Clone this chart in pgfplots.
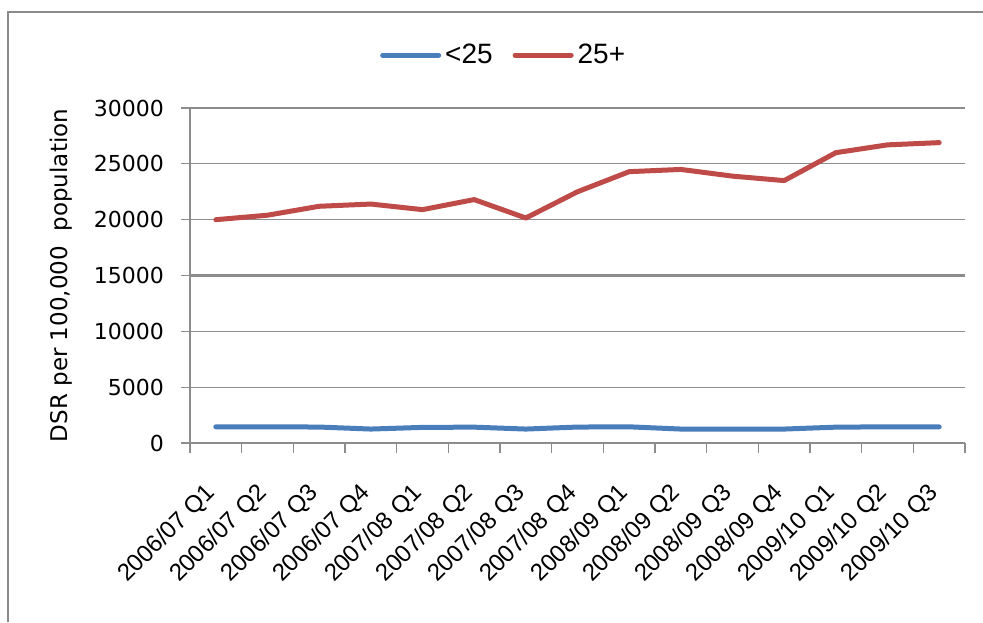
\documentclass[border=0pt]{standalone}
\usepackage{pgfplots}
\pgfplotsset{compat=1.18}
\usepackage{fontspec}
\setmainfont{Liberation Sans}
\newfontfamily\dejavu{DejaVu Sans}

\definecolor{serblue}{HTML}{4A7EBB}
\definecolor{serred}{HTML}{BE4B48}
\definecolor{gridgray}{HTML}{8C8C8C}
\definecolor{framegray}{HTML}{8A8A8A}

\begin{document}
\begin{tikzpicture}
\useasboundingbox (0,0) rectangle (491.5pt,-311pt);
% chart frame
\draw[framegray, line width=1pt] (4pt,-311pt) -- (4pt,-6pt) -- (491.5pt,-6pt);

\begin{axis}[
  at={(95pt,-221.5pt)}, anchor=south west,
  scale only axis, width=387.5pt, height=167.5pt,
  xmin=0, xmax=15, ymin=0, ymax=30000,
  axis x line*=bottom, axis y line*=left,
  axis line style={gridgray, line width=0.6pt},
  xtick={0.5,1.5,...,14.5},
  xticklabels={2006/07 Q1,2006/07 Q2,2006/07 Q3,2006/07 Q4,2007/08 Q1,2007/08 Q2,2007/08 Q3,2007/08 Q4,2008/09 Q1,2008/09 Q2,2008/09 Q3,2008/09 Q4,2009/10 Q1,2009/10 Q2,2009/10 Q3},
  major x tick style={draw=none},
  minor xtick={0,1,...,15},
  minor x tick style={gridgray, line width=0.6pt},
  x tick style={/pgfplots/tick align=outside},
  minor tick length=5pt,
  ytick={0,5000,...,30000},
  y tick style={gridgray, line width=0.6pt},
  major tick length=9pt,
  ytick align=center,
  ymajorgrids,
  grid style={gridgray, line width=0.6pt},
  scaled y ticks=false,
  yticklabel style={font=\dejavu\fontsize{11}{13}\selectfont, /pgf/number format/1000 sep={}, xshift=-5pt},
  /pgf/number format/assume math mode=true,
  xticklabel style={font=\fontsize{12}{14}\selectfont, rotate=45, anchor=north east, xshift=-14.5pt, yshift=-6pt},
  ylabel={\dejavu DSR per 100,000\ \ population},
  ylabel style={font=\fontsize{11.5}{13}\selectfont, at={(axis description cs:-0.166,0.5)}, anchor=center},
  legend columns=2,
  legend style={at={(axis description cs:0.406,1.158)}, anchor=center, draw=none,
    font=\fontsize{14}{16}\selectfont, inner sep=0pt,
    /tikz/every even column/.append style={column sep=8pt}},
  legend cell align=left,
  legend image code/.code={\draw[#1, line cap=round] (0pt,0pt) -- (28pt,0pt);},
  every axis plot/.append style={line width=2.5pt, line join=round, line cap=round},
  clip=false,
]
% heavier 15000 gridline
\draw[gridgray, line width=1.4pt] (axis cs:0,15000) -- (axis cs:15,15000);

\addplot[serblue] coordinates {
(0.5,1450) (1.5,1450) (2.5,1430) (3.5,1250) (4.5,1400) (5.5,1420) (6.5,1250) (7.5,1430)
(8.5,1450) (9.5,1250) (10.5,1250) (11.5,1250) (12.5,1420) (13.5,1450) (14.5,1450)};
\addlegendentry{<25}

\addplot[serred] coordinates {
(0.5,20000) (1.5,20400) (2.5,21200) (3.5,21400) (4.5,20900) (5.5,21800) (6.5,20150) (7.5,22500)
(8.5,24300) (9.5,24500) (10.5,23900) (11.5,23500) (12.5,26000) (13.5,26700) (14.5,26900)};
\addlegendentry{25+}
\end{axis}
\end{tikzpicture}
\end{document}
